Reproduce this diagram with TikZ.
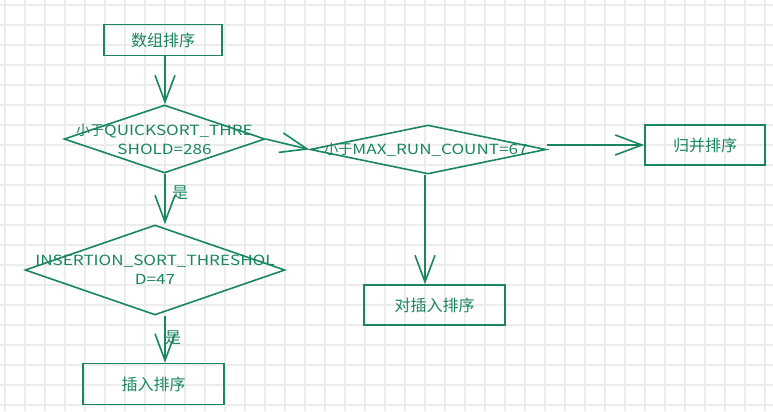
\documentclass[tikz,border=0pt]{standalone}
\usepackage{fontspec}
\setmainfont{Noto Sans CJK SC}
\newfontfamily\latfont[FakeStretch=1.22]{Noto Sans CJK SC}
\usetikzlibrary{shapes.geometric,arrows.meta,calc}
\definecolor{ink}{RGB}{26,134,94}
\definecolor{gridc}{RGB}{236,236,236}
\begin{document}
\begin{tikzpicture}[x=0.75pt,y=-0.75pt,
  every node/.style={text=ink},
  boxn/.style={draw=ink,line width=1.2pt,rectangle,inner sep=0pt,font=\fontsize{12pt}{14pt}\selectfont},
  dia/.style={draw=ink,line width=1.2pt,diamond,inner sep=0pt},
  dtext/.style={font=\fontsize{10.5pt}{14pt}\selectfont,align=center,inner sep=0pt},
  lbl/.style={font=\fontsize{12pt}{14pt}\selectfont,inner sep=0pt},
  arr/.style={draw=ink,line width=1.2pt,-{Straight Barb[length=20pt,width=15pt,line width=1.2pt]}}]
\useasboundingbox (0,0) rectangle (773,411);
\fill[white] (0,0) rectangle (773,411);
\foreach \x in {5,25,...,765} \draw[gridc,line width=1.1pt] (\x,0) -- (\x,411);
\foreach \y in {5,25,...,405} \draw[gridc,line width=1.1pt] (0,\y) -- (773,\y);

\node[boxn,minimum width=88.5pt,minimum height=23.25pt] (b1) at (163,40) {数组排序};
\node[dia,minimum width=150.75pt,minimum height=51pt] (d1) at (164.5,139) {};
\node[dtext] (d1t) at (164.5,139) {小于{\latfont QUICKSORT\_THRE}\\{\latfont SHOLD=286}};
\node[dia,minimum width=195pt,minimum height=67.5pt] (d2) at (155,270) {};
\node[dtext] (d2t) at (155,270) {{\latfont INSERTION\_SORT\_THRESHOL}\\{\latfont D=47}};
\node[boxn,minimum width=105.75pt,minimum height=30.75pt] (b2) at (153.5,384) {插入排序};
\node[dia,minimum width=177pt,minimum height=36.75pt] (d3) at (428,149.5) {};
\node[dtext] (d3t) at (426,149.5) {小于{\latfont MAX\_RUN\_COUNT=67}};
\node[boxn,minimum width=90pt,minimum height=30pt] (b3) at (705,145) {归并排序};
\node[boxn,minimum width=105.75pt,minimum height=30pt] (b4) at (434.5,305) {对插入排序};

\coordinate (c1) at (165,0);
\draw[arr] (b1.south -| c1) -- (d1.north -| c1);
\draw[arr] (d1.south -| c1) -- (d2.north -| c1);
\draw[arr] (d2.south -| c1) -- (b2.north -| c1);
\draw[arr] (d1.east) -- (d3.west);
\draw[arr] (d3.east |- b3.west) -- (b3.west);
\coordinate (c2) at (425,0);
\draw[arr] (d3.south -| c2) -- (b4.north -| c2);

\node[lbl] (y1) at (180,193) {是};
\node[lbl] (y2) at (173,338) {是};
\end{tikzpicture}
\end{document}
